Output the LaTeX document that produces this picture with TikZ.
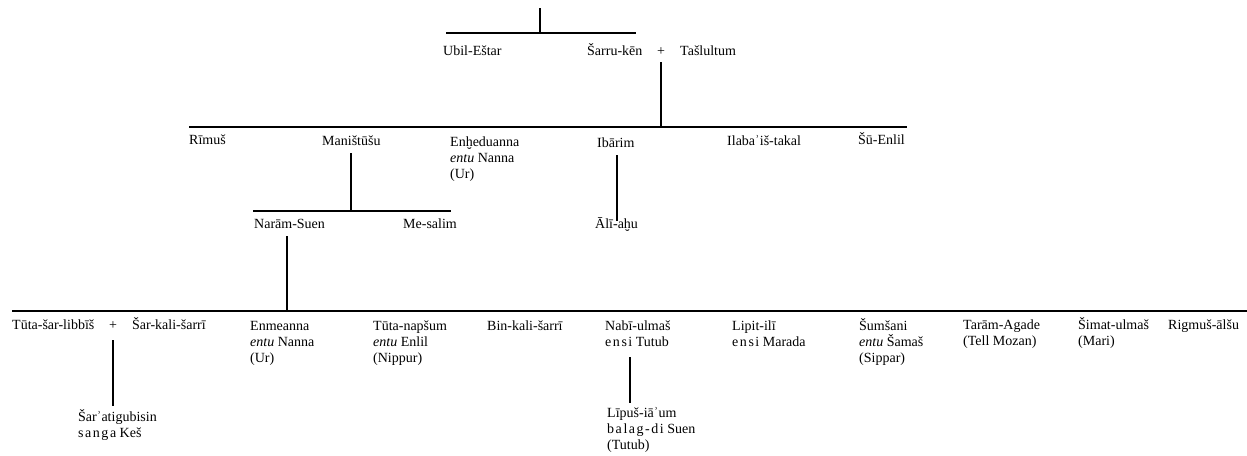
\documentclass[tikz,border=0pt]{standalone}
\usepackage{fontspec}
\setmainfont{Liberation Serif}
\newfontfamily\spacedfont[LetterSpace=11]{Liberation Serif}
\newcommand\sumer[1]{{\spacedfont #1}}
\usetikzlibrary{calc}
\begin{document}
\begin{tikzpicture}[x=1pt,y=-1pt,
  % multi-line names sit on the baseline of their last line
  person/.style={anchor=base west, inner sep=0pt, align=left,
    font=\fontsize{14}{16}\selectfont},
  plus/.style={anchor=base, inner sep=0pt, font=\fontsize{14}{16}\selectfont},
  line/.style={line width=2.1pt}]
\useasboundingbox (0,0) rectangle (1247,455);

% generation 1
\coordinate (g0) at (540,8);
\coordinate (b0l) at (446,33);
\coordinate (b0r) at (636,33);
\node[person] (ubil)  at (443,55) {Ubil-Eštar};
\node[person] (sarru) at (587,55) {Šarru-kēn};
\node[plus]   (plusA) at (661,55) {+};
\node[person] (tasl)  at (680,55) {Tašlultum};

% generation 2
\coordinate (b1l) at (189,127);
\coordinate (b1r) at (907,127);
\node[person] (rimus)  at (189,144) {Rīmuš};
\node[person] (manis)  at (322,145) {Maništūšu};
\node[person] (enhed)  at (450,178) {Enḫeduanna\\\textit{entu} Nanna\\(Ur)};
\node[person] (ibarim) at (597,147) {Ibārim};
\node[person] (ilaba)  at (727,145) {Ilabaʾiš-takal};
\node[person] (sulil)  at (858,144) {Šū-Enlil};

% generation 3
\coordinate (b2l) at (253,211);
\coordinate (b2r) at (451,211);
\node[person] (narsuen) at (254,228) {Narām-Suen};
\node[person] (mesalim) at (403,228) {Me-salim};
\node[person] (ali)     at (595,228) {Ālī-aḫu};

% generation 4
\coordinate (b3l) at (12,311);
\coordinate (b3r) at (1247,311);
\node[person] (tuta)     at (12,329)   {Tūta-šar-libbīš};
\node[plus]   (plusB)    at (113,329)  {+};
\node[person] (sarkali)  at (132,329)  {Šar-kali-šarrī};
\node[person] (enmeanna) at (250,362)  {Enmeanna\\\textit{entu} Nanna\\(Ur)};
\node[person] (tutanap)  at (373,362)  {Tūta-napšum\\\textit{entu} Enlil\\(Nippur)};
\node[person] (binkali)  at (487,330)  {Bin-kali-šarrī};
\node[person] (nabi)     at (605,346)  {Nabī-ulmaš\\\sumer{ensi} Tutub};
\node[person] (lipit)    at (732,346)  {Lipit-ilī\\\sumer{ensi} Marada};
\node[person] (sumsani)  at (859,362)  {Šumšani\\\textit{entu} Šamaš\\(Sippar)};
\node[person] (taram)    at (963,345)  {Tarām-Agade\\(Tell Mozan)};
\node[person] (simat)    at (1078,345) {Šimat-ulmaš\\(Mari)};
\node[person] (rigmus)   at (1168,329) {Rigmuš-ālšu};

% generation 5
\node[person] (sara)  at (78,437)  {Šarʾatigubisin\\\sumer{sanga} Keš};
\node[person] (lipus) at (607,449) {Līpuš-iāʾum\\\sumer{balag-di} Suen\\(Tutub)};

% family bars
\draw[line] (b0l) -- (b0r);
\draw[line] (b1l) -- (b1r);
\draw[line] (b2l) -- (b2r);
\draw[line] (b3l) -- (b3r);

% descent lines
\draw[line] (g0) -- (g0 |- b0l);
\draw[line] ($(plusA.base)+(0,7)$) -- (plusA.base |- b1l);
\draw[line] ($(manis.base)+(0,8)$) -- (manis.base |- b2l);
\draw[line] ($(ibarim.base west)+(20,8)$) -- ($(ibarim.base west |- ali.north)+(20,4)$);
\draw[line] ($(narsuen.base west)+(33,8)$) -- ($(narsuen.base west |- b3l)+(33,0)$);
\draw[line] ($(plusB.base)+(0,11)$) -- ($(plusB.base |- sara.north)+(0,-3)$);
\draw[line] ($(nabi.base west)+(25,11)$) -- ($(nabi.base west |- lipus.north)+(25,-4)$);
\end{tikzpicture}
\end{document}
